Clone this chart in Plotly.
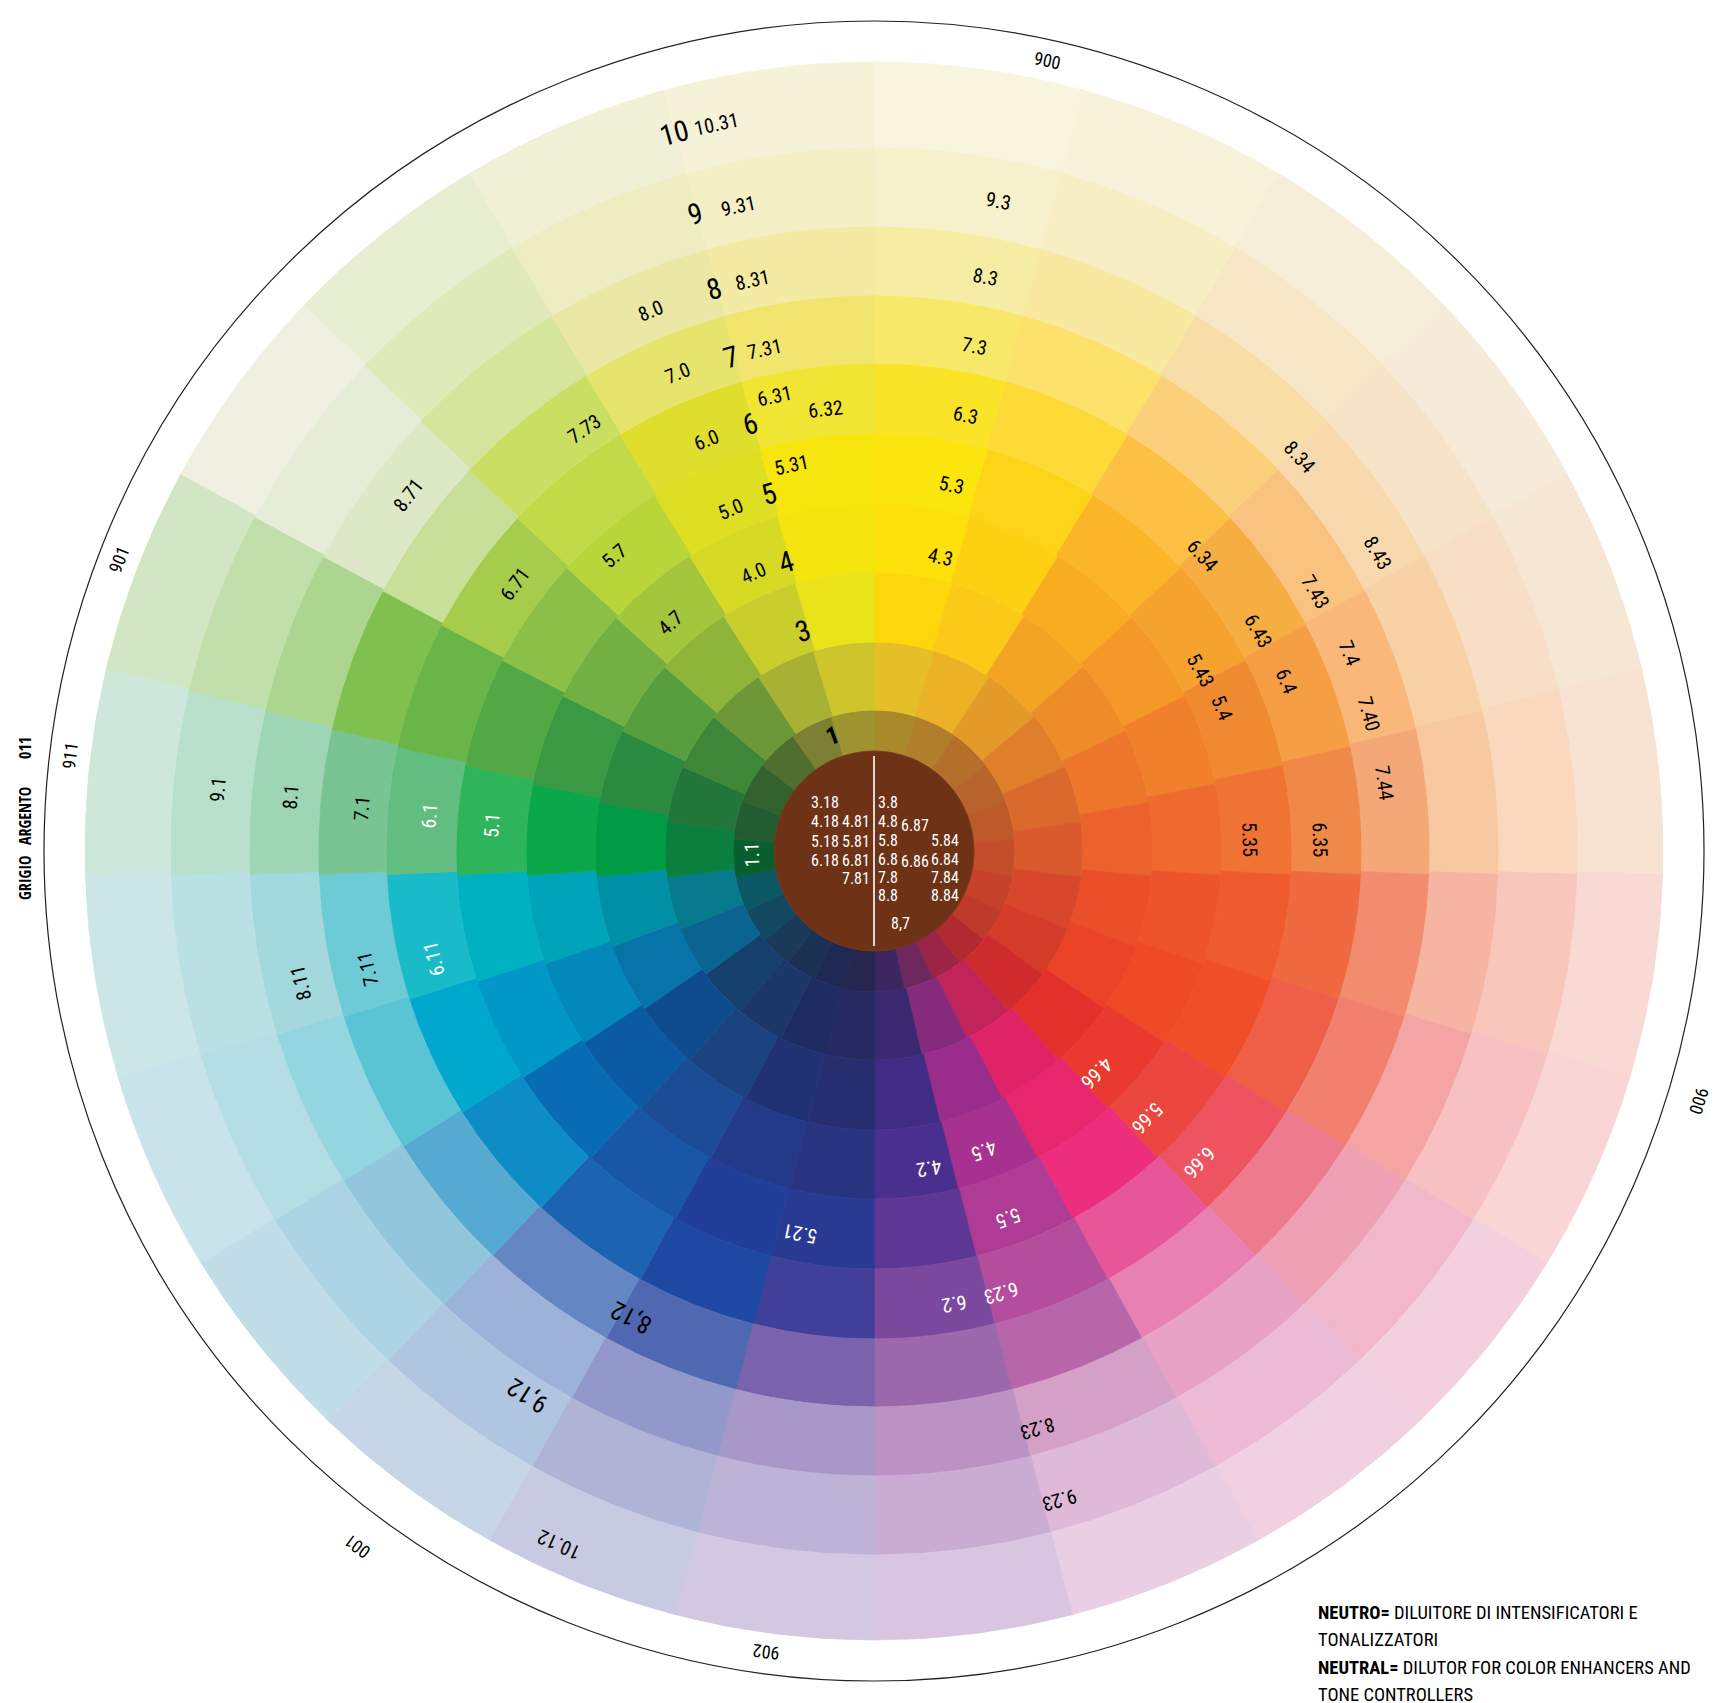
import math
import plotly.graph_objects as go

# ---------------- data ----------------
W, H = 1736, 1703
CX, CY = 866, 843          # centre of the rings (px)
RMAX = 830                 # outer thin circle
SECTOR_DROP = 22           # sector lines radiate from a point this far below the ring centre

RING_EDGES = [100, 141, 209, 279, 348, 418, 488, 556, 625, 704, 789]
SECTOR_START = list(range(0, 360, 15))   # clockwise from top

SECTOR_COLORS = [
    ["#A98A2B", "#E5BF28", "#FDD60B", "#FCE10A", "#FAE50C", "#FAE427", "#F7E86A", "#F6EDA4", "#F7F1CB", "#F8F4DE"],
    ["#B17E2B", "#EBB226", "#FBC918", "#FDD012", "#FDD418", "#FDDA35", "#FCE26A", "#F9E8A0", "#F8EEC4", "#F8F2DA"],
    ["#B4702B", "#E39A28", "#F4A423", "#F8AD20", "#FAB626", "#FBC044", "#FCD07A", "#F9DDA6", "#F7E7C6", "#F7EEDA"],
    ["#B8632B", "#DF7F2B", "#EF8C2A", "#F49829", "#F5A22E", "#F6AE42", "#F9C27E", "#F8D9AE", "#F7E4C8", "#F6EBD8"],
    ["#BE592A", "#DA6A2C", "#EE762B", "#F0802C", "#F08A30", "#F59E44", "#F9B77A", "#F8D1A6", "#F8DEC4", "#F6E6D4"],
    ["#C44D2A", "#D95A2C", "#EC622D", "#EE6A2E", "#EF7434", "#F08848", "#F5A877", "#F8C8A0", "#F9D8BE", "#F8E3D2"],
    ["#C6412A", "#D8462B", "#EB4F2A", "#EE542B", "#EF5A2E", "#EF6A40", "#F38C6E", "#F6B4A2", "#F8C6BA", "#F8D9D4"],
    ["#BE3A2B", "#D53B29", "#EA4327", "#EE4A26", "#F04E2A", "#EF5E46", "#F2806E", "#F4A4A2", "#F7C0C2", "#F9D5D6"],
    ["#B02A30", "#CF2B2D", "#E4302B", "#EA3A30", "#EC4640", "#EE5460", "#EE7A8E", "#EEA0B4", "#F0B8CA", "#F3D0DE"],
    ["#9A2546", "#C2245A", "#DE2466", "#E8266E", "#EC2E7C", "#E8569A", "#E880B2", "#E8A2C6", "#EDBAD4", "#F1D0E2"],
    ["#6E285E", "#862A7C", "#9A2C8C", "#A6318F", "#B03B95", "#B44E9C", "#B866AA", "#D4A0C6", "#DFB9D8", "#EACFE4"],
    ["#3E2660", "#3A2870", "#402C84", "#4A308E", "#5E3694", "#7A489C", "#9C68AC", "#BC92C4", "#CAACD2", "#D8C6E0"],
    ["#26254E", "#262A60", "#262E70", "#283480", "#293A92", "#40409A", "#7A62AC", "#A898C8", "#BCB3D6", "#D2C8E2"],
    ["#1E2852", "#1F2C62", "#213274", "#223A88", "#213E98", "#1E48A2", "#5068B2", "#9299CA", "#AFB4D6", "#C8CAE2"],
    ["#1C3054", "#1C3868", "#1C4280", "#1D4C96", "#1A56A6", "#1C64B2", "#6486C2", "#9CB2D8", "#B0C6E0", "#C6D6E6"],
    ["#1A3A58", "#15406E", "#0F4C8E", "#0C5AA4", "#086CB4", "#0E8CC6", "#56A9D0", "#92C6DD", "#ADD4E5", "#C0DDE8"],
    ["#124862", "#0B6390", "#0674A8", "#0288BA", "#0098C6", "#00A8CD", "#5BC4D4", "#93D6DF", "#B4DDE4", "#C9E3EA"],
    ["#0C5764", "#087A8E", "#0090A6", "#00A4BA", "#00B1C2", "#19BBC8", "#6DCBD5", "#A3D9DC", "#B9E0E2", "#CCE6E8"],
    ["#0A5F2E", "#0B7F3E", "#009B45", "#0AA84A", "#2EB45A", "#62BD80", "#78C593", "#9DD5B5", "#B8E0CB", "#CDE8DA"],
    ["#245C32", "#22763A", "#2A8A40", "#3A9A43", "#52A845", "#6AB547", "#7FC04F", "#ACD590", "#C0DFAA", "#D3E6C3"],
    ["#34622F", "#3E8638", "#579E3E", "#72B044", "#8CBF48", "#A6CC4C", "#C8DF9A", "#DDE9C6", "#E6EDD6", "#EFF0E2"],
    ["#506E30", "#6C9838", "#8EB43A", "#A4C63C", "#B8D53A", "#C2DA48", "#CADF62", "#D6E59C", "#E0EAB8", "#E8EED0"],
    ["#7C8032", "#A8B134", "#C9CE2C", "#D7DA24", "#DEDE22", "#E0DE2C", "#E7E46E", "#EAE8A4", "#EEEDC2", "#F0F0D6"],
    ["#9E9431", "#CEC42C", "#EAE31A", "#F3E40E", "#F6E60E", "#F1E534", "#F1E56E", "#F3EAA3", "#F5EFC6", "#F6F2D8"],
]
CENTER_COLOR = "#6E3316"

SMALL_LABELS = ["10.31", "9.31", "8.31", "7.31", "6.31", "6.32", "5.31", "8.0", "7.0", "6.0", "5.0", "4.0",
                "7.73", "5.7", "4.7", "8.71", "6.71", "9.1", "8.1", "7.1", "6.1", "5.1", "1.1",
                "9.3", "8.3", "7.3", "6.3", "5.3", "4.3", "8.34", "8.43", "6.34", "7.43", "6.43", "7.4",
                "5.43", "6.4", "5.4", "7.40", "7.44", "5.35", "6.35",
                "4.66", "5.66", "6.66", "4.5", "4.2", "5.5", "6.23", "6.2", "8.23", "9.23",
                "8.11", "7.11", "6.11", "5.21", "10.12"]
SMALL_R = [744, 659, 584, 514, 466, 445, 395, 585, 517, 444, 371, 303,
           512, 393, 306, 586, 447, 659, 586, 514, 446, 383, 122,
           662, 585, 515, 445, 374, 302, 580, 585, 442, 512, 443, 515,
           373, 446, 376, 514, 515, 376, 446,
           315, 382, 451, 320, 322, 391, 460, 460, 600, 675,
           588, 520, 453, 390, 762]
SMALL_T = [347.8, 348.1, 348.0, 347.7, 347.7, 353.8, 347.9, 337.5, 337.7, 337.8, 337.3, 336.5,
           325.5, 318.6, 318.2, 307.4, 306.6, 275.4, 275.3, 274.8, 274.5, 273.9, 268.0,
           10.8, 11.0, 11.2, 11.8, 12.0, 12.8, 47.2, 59.4, 48.1, 59.6, 60.2, 67.4,
           61.0, 67.6, 67.7, 74.5, 82.4, 88.3, 88.6,
           135.0, 134.4, 133.7, 159.9, 170.2, 159.8, 164.0, 170.0, 164.2, 164.1,
           257.0, 256.9, 256.3, 190.9, 204.4]
WHITE_LABELS = {"6.1", "5.1", "1.1", "4.66", "5.66", "6.66", "4.5", "4.2", "5.5", "6.23", "6.2", "6.11", "5.21"}

MID_LABELS = ["8,12", "9,12"]
MID_R = [526, 645]
MID_T = [207.5, 212.5]

BIG_LABELS = ["10", "9", "8", "7", "6", "5", "4", "3", "1"]
BIG_R = [745, 662, 584, 514, 445, 372, 302, 231, 123]
BIG_T = [344.5, 344.3, 344.1, 343.9, 343.8, 343.6, 343.1, 342.1, 340.5]

OUTER_LABELS = ["900", "004", "900", "002", "902", "001", "911", "901"]
OUTER_R = [809, 847, 862, 855, 808, 867, 810, 809]
OUTER_T = [12.4, 85.1, 106.9, 172.9, 187.7, 216.6, 276.8, 291.1]

SIDE_WORDS = ["GRIGIO", "ARGENTO", "011"]
SIDE_Y = [870, 808, 740]

CENTER_TEXT = ["3.18", "4.18", "5.18", "6.18", "4.81", "5.81", "6.81", "7.81",
               "3.8", "4.8", "5.8", "6.8", "7.8", "8.8", "6.87", "6.86",
               "5.84", "6.84", "7.84", "8.84", "8,7"]
CENTER_DX = [-49, -49, -49, -49, -18, -18, -18, -18,
             14, 14, 14, 14, 14, 14, 41, 41,
             71, 71, 71, 71, 26]
CENTER_DY = [49, 30, 10, -9, 30, 10, -9, -27,
             49, 30, 11, -8, -26, -44, 26, -10,
             11, -8, -26, -44, -72]

LEGEND_LINES = ["<b>NEUTRO=</b> DILUITORE DI INTENSIFICATORI E",
                "TONALIZZATORI",
                "<b>NEUTRAL=</b> DILUTOR FOR COLOR ENHANCERS AND",
                "TONE CONTROLLERS"]
LEGEND_Y = [1605, 1632, 1660, 1687]

# ---------------- helpers ----------------
FONT = "Roboto Condensed, Liberation Sans, Arial, sans-serif"
BOLD_COND = "Open Sans Condensed, Roboto Condensed, Liberation Sans, sans-serif"


def boundary_angle(phi_deg, r, d):
    """Angle (seen from the ring centre) where a sector line leaving a point d below
    the centre with direction phi crosses the circle of radius r."""
    phi = math.radians(phi_deg)
    c, s = math.cos(phi), math.sin(phi)
    t = d * c + math.sqrt((d * c) ** 2 - d * d + r * r)
    return math.degrees(math.atan2(t * s, -d + t * c)) % 360


# ---------------- figure ----------------
fig = go.Figure()

for k in range(len(RING_EDGES) - 1):
    r_in, r_out = RING_EDGES[k], RING_EDGES[k + 1]
    r_mid = (r_in + r_out) / 2
    b = [boundary_angle(s, r_mid, SECTOR_DROP) for s in SECTOR_START] + [360.0]
    thetas = [(b[j] + b[j + 1]) / 2 for j in range(len(SECTOR_START))]
    widths = [b[j + 1] - b[j] for j in range(len(SECTOR_START))]
    cols = [SECTOR_COLORS[j][k] for j in range(len(SECTOR_START))]
    fig.add_trace(go.Barpolar(
        r=[r_out - r_in] * len(thetas), base=[r_in] * len(thetas),
        theta=thetas, width=widths,
        marker=dict(color=cols, line=dict(color=cols, width=0.8)),
        hoverinfo="skip", showlegend=False))

fig.add_trace(go.Barpolar(
    r=[RING_EDGES[0], RING_EDGES[0]], theta=[90, 270], width=[180, 180],
    marker=dict(color=CENTER_COLOR, line=dict(color=CENTER_COLOR, width=0.8)),
    hoverinfo="skip", showlegend=False))
fig.add_trace(go.Scatterpolar(
    r=[RING_EDGES[0] - 5, 0, RING_EDGES[0] - 5], theta=[0, 0, 180], mode="lines",
    line=dict(color="white", width=1.6), hoverinfo="skip", showlegend=False))

# invisible anchor trace for the overlay axes used by the labels
fig.add_trace(go.Scatter(x=[-RMAX, RMAX], y=[-RMAX, RMAX], mode="markers",
                         marker=dict(opacity=0), hoverinfo="skip", showlegend=False))

x0, x1 = (CX - RMAX) / W, (CX + RMAX) / W
y0, y1 = (H - CY - RMAX) / H, (H - CY + RMAX) / H

annotations = []


def add_polar_label(text, r, t, size, color, bold=False):
    a = t if t <= 180 else t - 360
    rad = math.radians(t)
    annotations.append(dict(
        x=r * math.sin(rad), y=r * math.cos(rad), xref="x", yref="y",
        text=f"<b>{text}</b>" if bold else text, showarrow=False,
        textangle=a, xanchor="center", yanchor="middle",
        font=dict(family=FONT, size=size, color=color)))


for txt, r, t in zip(SMALL_LABELS, SMALL_R, SMALL_T):
    add_polar_label(txt, r, t, 20, "white" if txt in WHITE_LABELS else "black")
for txt, r, t in zip(MID_LABELS, MID_R, MID_T):
    add_polar_label(txt, r, t, 25, "black")
for txt, r, t in zip(BIG_LABELS, BIG_R, BIG_T):
    add_polar_label(txt, r, t, 29 if txt != "1" else 25, "black", bold=(txt == "1"))
for txt, r, t in zip(OUTER_LABELS, OUTER_R, OUTER_T):
    add_polar_label(txt, r, t, 18, "black")

for txt, dx, dy in zip(CENTER_TEXT, CENTER_DX, CENTER_DY):
    annotations.append(dict(x=dx, y=dy, xref="x", yref="y", text=txt, showarrow=False,
                            xanchor="center", yanchor="middle",
                            font=dict(family=FONT, size=16, color="white")))

for txt, py in zip(SIDE_WORDS, SIDE_Y):
    annotations.append(dict(x=17 / W, y=1 - py / H, xref="paper", yref="paper",
                            text=txt, showarrow=False, textangle=-90,
                            xanchor="center", yanchor="middle",
                            font=dict(family=BOLD_COND, size=16, color="black")))

for line, py in zip(LEGEND_LINES, LEGEND_Y):
    annotations.append(dict(x=1308 / W, y=1 - py / H, xref="paper", yref="paper",
                            text=line, showarrow=False, xanchor="left", yanchor="middle",
                            font=dict(family=FONT, size=18.5, color="black")))

fig.update_layout(
    width=W, height=H, margin=dict(l=0, r=0, t=0, b=0),
    paper_bgcolor="white", plot_bgcolor="rgba(0,0,0,0)",
    showlegend=False,
    polar=dict(
        domain=dict(x=[x0, x1], y=[y0, y1]),
        bgcolor="white", barmode="overlay",
        radialaxis=dict(range=[0, RMAX], visible=False),
        angularaxis=dict(rotation=90, direction="clockwise", showline=True,
                         linecolor="#222222", linewidth=1.2, showgrid=False,
                         showticklabels=False, ticks=""),
    ),
    xaxis=dict(domain=[x0, x1], range=[-RMAX, RMAX], visible=False, fixedrange=True),
    yaxis=dict(domain=[y0, y1], range=[-RMAX, RMAX], visible=False, fixedrange=True),
    annotations=annotations,
)

fig.write_html("out.html")
